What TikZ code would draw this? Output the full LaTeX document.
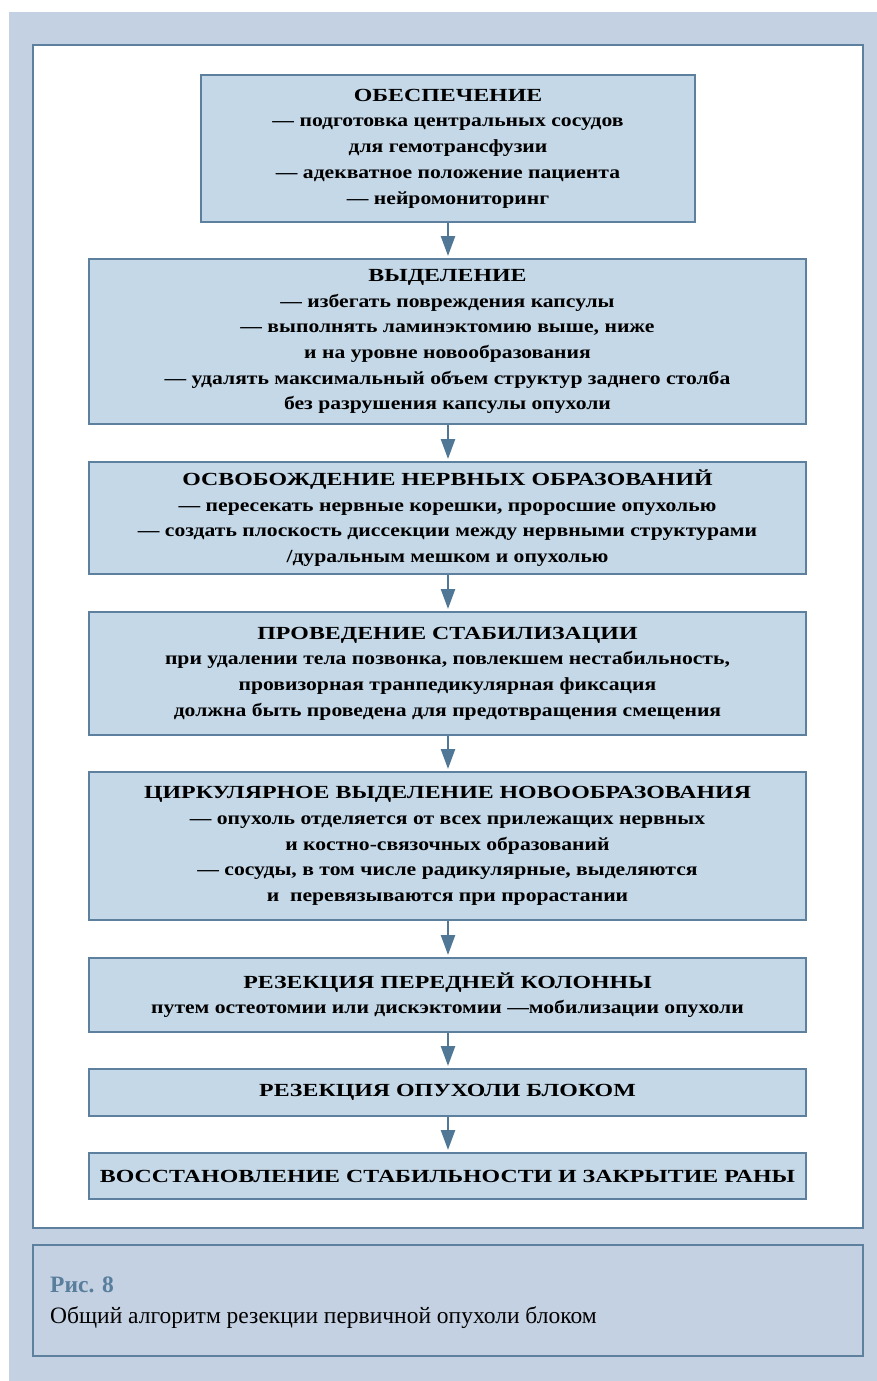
\documentclass[tikz,border=0pt]{standalone}
\usepackage{fontspec}
\setmainfont{Liberation Serif}
\newfontfamily\boxfont[FakeStretch=1.17]{Liberation Serif Bold}
\newfontfamily\headfont[FakeStretch=1.29]{Liberation Serif Bold}
\usetikzlibrary{arrows.meta}
\definecolor{bgblue}{RGB}{196,209,227}
\definecolor{boxfill}{RGB}{197,216,232}
\definecolor{boxline}{RGB}{92,128,158}
\definecolor{arrowc}{RGB}{80,120,150}
\definecolor{capblue}{RGB}{88,126,156}
\newcommand{\hd}[1]{{\headfont #1}}
\tikzset{
  stepbox/.style={draw=boxline, line width=2pt, fill=boxfill, align=center,
    inner sep=0pt, font=\boxfont\fontsize{18.5}{25.7}\selectfont},
  flowarrow/.style={draw=arrowc, line width=2.5pt,
    -{Triangle[width=14pt,length=20pt]}, shorten >=2pt}
}
\begin{document}
\begin{tikzpicture}[x=1pt,y=-1pt]
\useasboundingbox (0,0) rectangle (877,1381);
\fill[white] (0,0) rectangle (877,1381);
\fill[bgblue] (9,12) rectangle (877,1381);
\draw[boxline, line width=2.5pt, fill=white] (33,45) rectangle (863,1228);
\draw[boxline, line width=1.2pt] (33,1245) rectangle (863,1356);

\node[stepbox, minimum width=494pt, minimum height=147pt] (b1) at (448,148.5)
{\hd{ОБЕСПЕЧЕНИЕ}\\
— подготовка центральных сосудов\\
для гемотрансфузии\\
— адекватное положение пациента\\
— нейромониторинг};

\node[stepbox, minimum width=717pt, minimum height=165pt] (b2) at (447.5,341.5)
{\hd{ВЫДЕЛЕНИЕ}\\
— избегать повреждения капсулы\\
— выполнять ламинэктомию выше, ниже\\
и на уровне новообразования\\
— удалять максимальный объем структур заднего столба\\
без разрушения капсулы опухоли};

\node[stepbox, minimum width=717pt, minimum height=112pt] (b3) at (447.5,518)
{\hd{ОСВОБОЖДЕНИЕ НЕРВНЫХ ОБРАЗОВАНИЙ}\\
— пересекать нервные корешки, проросшие опухолью\\
— создать плоскость диссекции между нервными структурами\\
/дуральным мешком и опухолью};

\node[stepbox, minimum width=717pt, minimum height=123pt] (b4) at (447.5,673.5)
{\hd{ПРОВЕДЕНИЕ СТАБИЛИЗАЦИИ}\\
при удалении тела позвонка, повлекшем нестабильность,\\
провизорная транпедикулярная фиксация\\
должна быть проведена для предотвращения смещения};

\node[stepbox, minimum width=717pt, minimum height=148pt] (b5) at (447.5,846)
{\hd{ЦИРКУЛЯРНОЕ ВЫДЕЛЕНИЕ НОВООБРАЗОВАНИЯ}\\
— опухоль отделяется от всех прилежащих нервных\\
и костно-связочных образований\\
— сосуды, в том числе радикулярные, выделяются\\
и\ \ перевязываются при прорастании};

\node[stepbox, minimum width=717pt, minimum height=74pt] (b6) at (447.5,995)
{\hd{РЕЗЕКЦИЯ ПЕРЕДНЕЙ КОЛОННЫ}\\
путем остеотомии или дискэктомии —мобилизации опухоли};

\node[stepbox, minimum width=717pt, minimum height=47pt] (b7) at (447.5,1092.5)
{\hd{РЕЗЕКЦИЯ ОПУХОЛИ БЛОКОМ}};

\node[stepbox, minimum width=717pt, minimum height=46pt] (b8) at (447.5,1176)
{\hd{ВОССТАНОВЛЕНИЕ СТАБИЛЬНОСТИ И ЗАКРЫТИЕ РАНЫ}};

\foreach \a/\b in {b1/b2,b2/b3,b3/b4,b4/b5,b5/b6,b6/b7,b7/b8}
  \draw[flowarrow] (\a.south -| 448,0) -- (\b.north -| 448,0);

\node[anchor=base west, inner sep=0pt, text=capblue, font=\bfseries\fontsize{23.5}{28}\selectfont] (fig) at (50,1292) {Рис. 8};
\node[anchor=base west, inner sep=0pt, font=\fontsize{23.5}{28}\selectfont] (cap) at (50,1323) {Общий алгоритм резекции первичной опухоли блоком};
\end{tikzpicture}
\end{document}
